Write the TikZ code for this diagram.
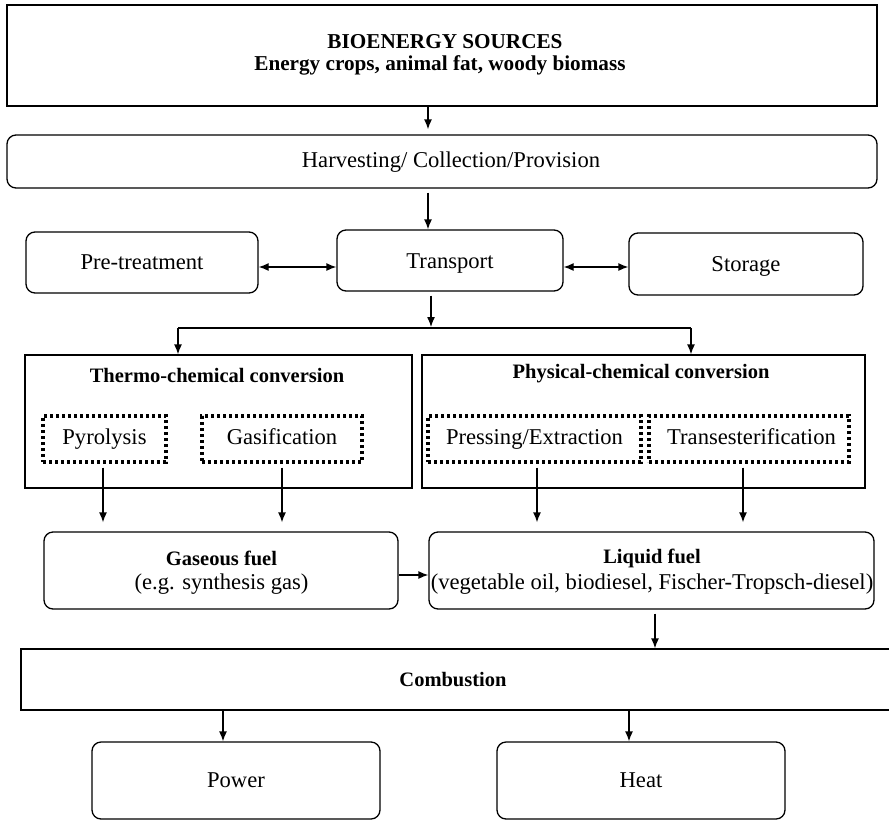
\documentclass[tikz,border=0pt]{standalone}
\usepackage{fontspec}
\setmainfont{Liberation Serif}
\usetikzlibrary{arrows.meta}
\tikzset{
  base/.style={draw, line width=1.3pt, inner sep=0pt, align=center, font=\fontsize{22.6}{26}\selectfont, text height=15pt, text depth=1pt},
  sqbox/.style={base},
  rbox/.style={base, rounded corners=9pt},
  emptybox/.style={draw, line width=1.3pt, inner sep=0pt},
  dotbox/.style={draw, line width=3.2pt, dash pattern=on 3.4pt off 2.6pt, inner sep=0pt, font=\fontsize{22.6}{26}\selectfont, text height=12pt, text depth=1pt},
  ttl/.style={font=\bfseries\fontsize{20.5}{26}\selectfont, inner sep=0pt},
  txt/.style={inner sep=0pt, align=center, font=\fontsize{22.6}{26}\selectfont},
  arr/.style={-{Latex[length=10pt,width=8pt]}, line width=1.3pt},
  darr/.style={{Latex[length=10pt,width=8pt]}-{Latex[length=10pt,width=8pt]}, line width=1.3pt},
  ln/.style={line width=1.3pt}
}
\newcommand{\bfs}[1]{{\bfseries\fontsize{21.2}{23}\selectfont #1}}
\begin{document}
\begin{tikzpicture}[x=1pt,y=-1pt]
\useasboundingbox (0,0) rectangle (889,820);
% boxes
\node[emptybox, minimum width=870pt, minimum height=101pt] (src) at (442,55.5) {};
\node[inner sep=0pt] (srct1) at (445,42) {\bfs{BIOENERGY SOURCES}};
\node[inner sep=0pt] (srct2) at (440,65.5) {\bfs{Energy crops, animal fat, woody biomass}};
\node[emptybox, rounded corners=9pt, minimum width=870pt, minimum height=53pt] (harv) at (442,161.5) {};
\node[txt] (harvt) at (451,162) {Harvesting/ Collection/Provision};
\node[rbox, minimum width=232pt, minimum height=61pt] (pre) at (142,262.5) {Pre-treatment};
\node[rbox, minimum width=226pt, minimum height=61pt, text height=17pt] (trans) at (450,260.5) {Transport};
\node[rbox, minimum width=234pt, minimum height=62pt] (stor) at (746,264) {Storage};
\node[emptybox, minimum width=387pt, minimum height=133pt] (thermo) at (218.5,421.5) {};
\node[ttl] (thermot) at (217,375) {Thermo-chemical conversion};
\node[dotbox, minimum width=123pt, minimum height=46pt] (pyro) at (104.5,439) {Pyrolysis};
\node[dotbox, minimum width=160pt, minimum height=46pt] (gasi) at (282,439) {Gasification};
\node[emptybox, minimum width=443pt, minimum height=133pt] (phys) at (643.5,421.5) {};
\node[ttl] (physt) at (641,374) {Physical-chemical conversion};
\node[dotbox, minimum width=213pt, minimum height=46pt] (press) at (534.5,439) {Pressing/Extraction};
\node[dotbox, minimum width=200pt, minimum height=46pt] (tester) at (749,439) {\hspace*{5pt}Transesterification};
\node[emptybox, rounded corners=9pt, minimum width=354pt, minimum height=77pt] (gas) at (221,570.5) {};
\node[ttl] (gast1) at (221.5,558) {Gaseous fuel};
\node[txt] (gast2) at (221.5,584) {(e.g. synthesis gas)};
\node[emptybox, rounded corners=9pt, minimum width=445pt, minimum height=77pt] (liq) at (651.5,570.5) {};
\node[ttl] (liqt1) at (652,558) {Liquid fuel};
\node[txt] (liqt2) at (652,584) {(vegetable oil, biodiesel, Fischer-Tropsch-diesel)};
\node[emptybox, minimum width=874pt, minimum height=61pt] (comb) at (458,679.5) {};
\node[ttl] (combt) at (453,680) {Combustion};
\node[rbox, minimum width=288pt, minimum height=77pt] (power) at (236,780.5) {Power};
\node[rbox, minimum width=288pt, minimum height=77pt] (heat) at (641,780.5) {Heat};
% helper coordinates
\coordinate (xa) at (428,0);
\coordinate (xt) at (431,0);
\coordinate (xp) at (537,0);
\coordinate (xe) at (743,0);
\coordinate (xpy) at (103,0);
\coordinate (xg) at (282,0);
\coordinate (xl) at (655,0);
\coordinate (xpw) at (223,0);
\coordinate (xh) at (629,0);
\coordinate (ym) at (0,267);
\coordinate (yg) at (0,575);
\coordinate (dl) at (178,328);
\coordinate (dr) at (691,328);
% connectors
\draw[arr, shorten >=5pt] (src.south -| xa) -- (harv.north -| xa);
\draw[arr, shorten <=4pt] (harv.south -| xa) -- (trans.north -| xa);
\draw[darr] (pre.east |- ym) -- (trans.west |- ym);
\draw[darr] (trans.east |- ym) -- (stor.west |- ym);
\draw[arr, shorten <=4pt, shorten >=1pt] (trans.south -| xt) -- (dl -| xt);
\draw[ln] (dl) -- (dr);
\draw[arr] (dl) -- (dl |- thermo.north);
\draw[arr] (dr) -- (dr |- phys.north);
\draw[arr, shorten <=4pt, shorten >=9pt] (pyro.south -| xpy) -- (gas.north -| xpy);
\draw[arr, shorten <=4pt, shorten >=9pt] (gasi.south -| xg) -- (gas.north -| xg);
\draw[arr, shorten <=4pt, shorten >=9pt] (press.south -| xp) -- (liq.north -| xp);
\draw[arr, shorten <=4pt, shorten >=9pt] (tester.south -| xe) -- (liq.north -| xe);
\draw[arr] (gas.east |- yg) -- (liq.west |- yg);
\draw[arr, shorten <=4pt] (liq.south -| xl) -- (comb.north -| xl);
\draw[arr] (comb.south -| xpw) -- (power.north -| xpw);
\draw[arr] (comb.south -| xh) -- (heat.north -| xh);
\end{tikzpicture}
\end{document}
